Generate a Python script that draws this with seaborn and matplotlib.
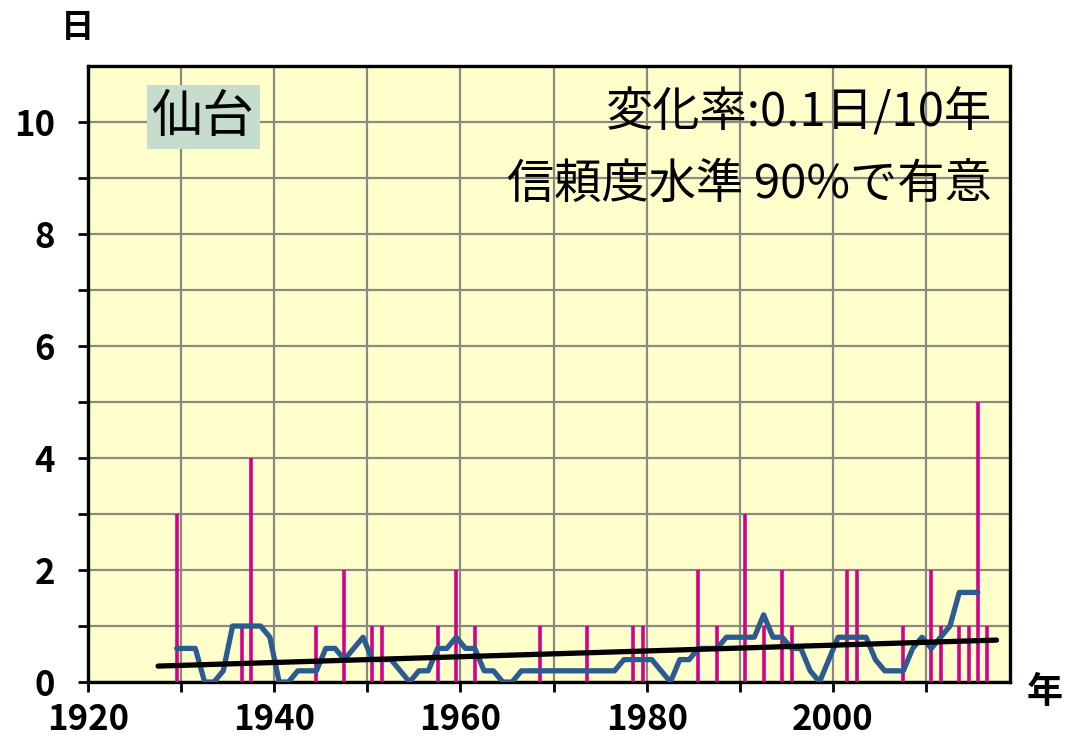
import numpy as np
import pandas as pd
import seaborn as sns
import matplotlib.pyplot as plt

# 仙台: 年ごとの日数 (1927-2017)
years = np.arange(1927, 2018)
event_years = [1929, 1936, 1937, 1944, 1947, 1950, 1951, 1957, 1959, 1961,
               1968, 1973, 1978, 1979, 1985, 1987, 1990, 1992, 1994, 1995,
               2001, 2002, 2007, 2010, 2011, 2013, 2014, 2015, 2016]
event_days = [3, 1, 4, 1, 2, 1, 1, 1, 2, 1,
              1, 1, 1, 1, 2, 1, 3, 1, 2, 1,
              2, 2, 1, 2, 1, 1, 1, 5, 1]

station = "仙台"
rate_text = "変化率:0.1日/10年"
signif_text = "信頼度水準 90%で有意"

bar_col = "#d4008a"
line_col = "#2b5b8f"
bg_col = "#ffffcc"
box_col = "#c6dccd"

df = pd.DataFrame({"year": years})
df["days"] = df["year"].map(dict(zip(event_years, event_days))).fillna(0)
df["x"] = df["year"] + 0.55
df["ma5"] = df["days"].rolling(5, center=True).mean()

sns.set_style("ticks")
plt.rcParams["font.family"] = ["Noto Sans CJK JP", "DejaVu Sans"]
plt.rcParams["text.color"] = "black"
plt.rcParams["xtick.labelcolor"] = "black"
plt.rcParams["ytick.labelcolor"] = "black"

fig = plt.figure(figsize=(10.66, 7.37), dpi=100)
ax = fig.add_axes([0.0823, 0.0746, 0.8652, 0.8358])
ax.set_facecolor(bg_col)

ax.vlines(df["x"], 0, df["days"], color=bar_col, lw=2.6, zorder=3)
sns.lineplot(data=df.dropna(), x="x", y="ma5", color=line_col, lw=3.8,
             ax=ax, zorder=4)
sns.regplot(data=df, x="x", y="days", scatter=False, ci=None, ax=ax,
            line_kws={"color": "black", "lw": 3.8, "zorder": 5})

ax.set_xlim(1920, 2019)
ax.set_ylim(0, 11)
ax.set_xticks(range(1920, 2020, 10))
ax.set_xticklabels([str(t) if t % 20 == 0 else "" for t in range(1920, 2020, 10)])
ax.set_yticks(range(0, 11))
ax.set_yticklabels([str(t) if t % 2 == 0 else "" for t in range(0, 11)])
ax.grid(True, color="#8a8a84", lw=1.6, zorder=1)
ax.set_axisbelow(True)
ax.tick_params(direction="out", length=7.5, width=2, color="black",
               labelcolor="black", labelsize=25)
ax.tick_params(axis="x", pad=7)
ax.tick_params(axis="y", pad=16)
for lab in ax.get_xticklabels() + ax.get_yticklabels():
    lab.set_fontweight("bold")
for s in ax.spines.values():
    s.set_visible(True)
    s.set_color("black")
    s.set_linewidth(2.4)
ax.set_xlabel("")
ax.set_ylabel("")

ax.text(0.125, 0.917, station, transform=ax.transAxes, fontsize=37,
        color="black", ha="center", va="center",
        bbox=dict(boxstyle="square,pad=0.1", fc=box_col, ec="none"), zorder=6)
ax.text(0.9805, 0.924, rate_text, transform=ax.transAxes, fontsize=34,
        color="black", ha="right", va="center", zorder=6)
ax.text(0.9805, 0.807, signif_text, transform=ax.transAxes, fontsize=34,
        color="black", ha="right", va="center", zorder=6)

fig.text(78 / 1066, 1 - 28 / 737, "日", fontsize=24, fontweight="bold",
         color="black", ha="center", va="center")
fig.text(1045 / 1066, 1 - 693 / 737, "年", fontsize=26, fontweight="bold",
         color="black", ha="center", va="center")

fig.savefig("out.png", dpi=100, facecolor="white")
